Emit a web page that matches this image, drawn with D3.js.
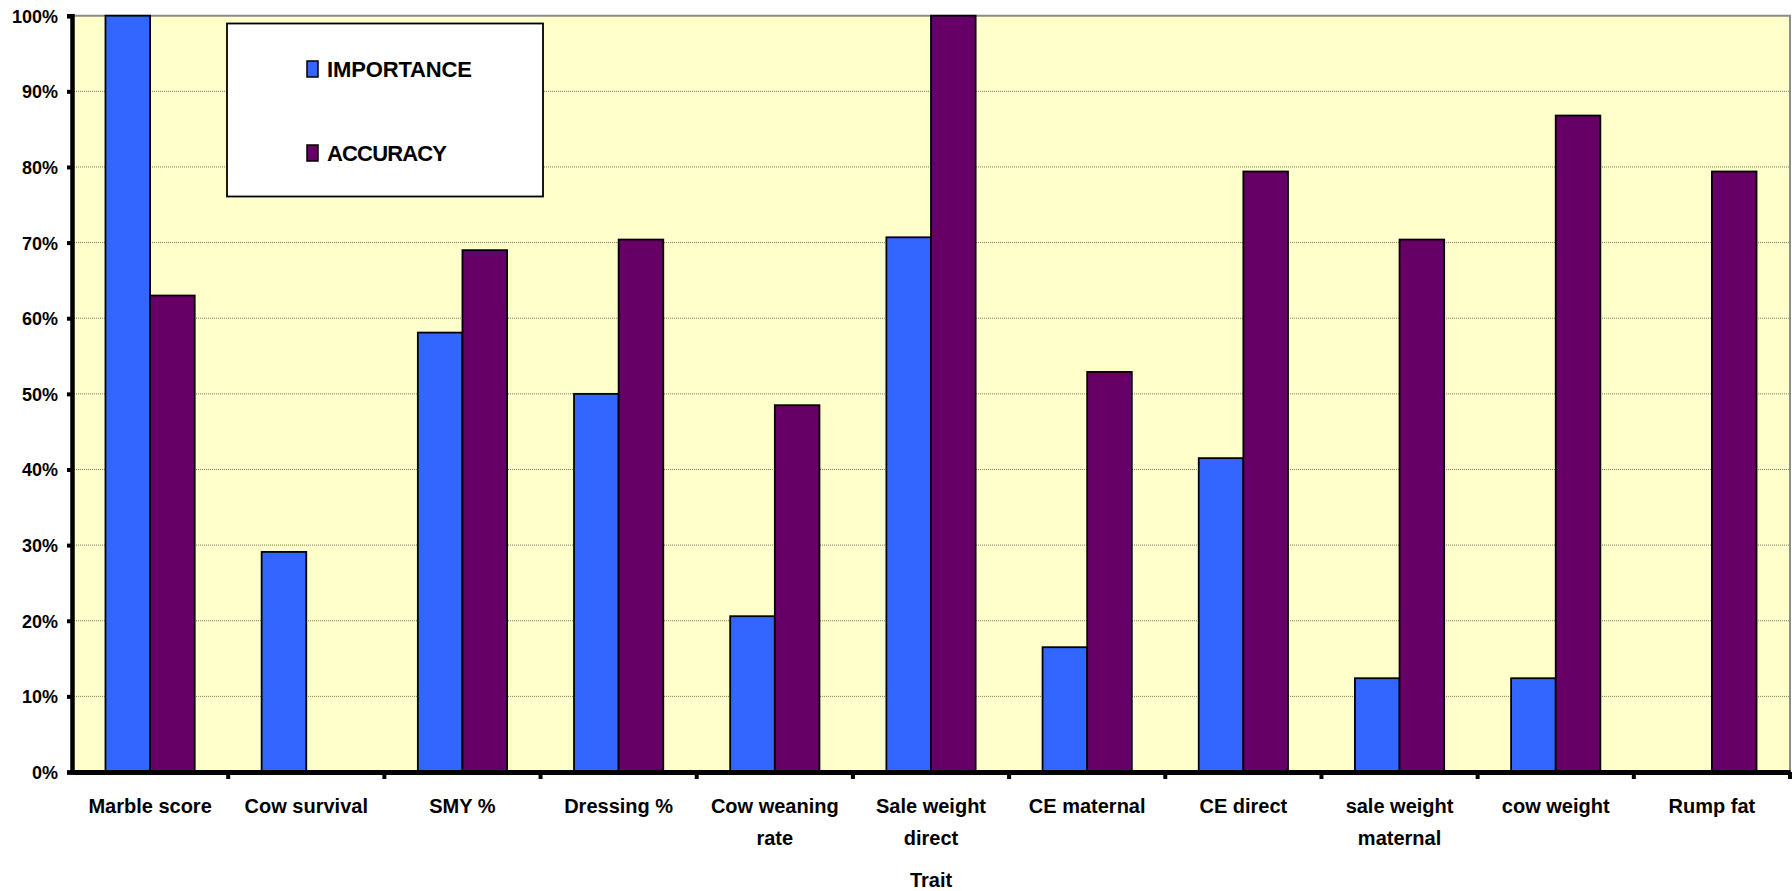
<!DOCTYPE html>
<html>
<head>
<meta charset="utf-8">
<script src="https://cdn.jsdelivr.net/npm/d3@7"></script>
<style>
  body { margin: 0; background: #fff; }
  svg text { font-family: "Liberation Sans", Arial, sans-serif; font-weight: bold; fill: #000; }
</style>
</head>
<body>
<div id="chartArea"></div>
<script>
var traits = ['Marble score', 'Cow survival', 'SMY %', 'Dressing %', 'Cow weaning rate',
              'Sale weight direct', 'CE maternal', 'CE direct', 'sale weight maternal',
              'cow weight', 'Rump fat'];
// label lines as shown under the axis
var traitLines = [['Marble score'], ['Cow survival'], ['SMY %'], ['Dressing %'], ['Cow weaning', 'rate'],
                  ['Sale weight', 'direct'], ['CE maternal'], ['CE direct'], ['sale weight', 'maternal'],
                  ['cow weight'], ['Rump fat']];
var importance = [100, 29.1, 58.1, 50, 20.6, 70.7, 16.5, 41.5, 12.4, 12.4, 0];
var accuracy = [63, 0, 69, 70.4, 48.5, 100, 52.9, 79.4, 70.4, 86.8, 79.4];
var seriesNames = ['IMPORTANCE', 'ACCURACY'];
var seriesColors = ['#3366FF', '#660066'];
var yTicks = [0, 10, 20, 30, 40, 50, 60, 70, 80, 90, 100];

var width = 1792, height = 891;
var plot = { left: 72, right: 1790, top: 15.7, bottom: 772 };

var svg = d3.select('#chartArea').append('svg')
  .attr('width', width).attr('height', height);

var x0 = d3.scaleBand().domain(traits).range([plot.left, plot.right]).paddingInner(0).paddingOuter(0);
var y = d3.scaleLinear().domain([0, 100]).range([plot.bottom, plot.top]);

// plot background
svg.append('rect')
  .attr('x', plot.left).attr('y', plot.top)
  .attr('width', plot.right - plot.left).attr('height', plot.bottom - plot.top)
  .attr('fill', '#FFFFCC');

// gridlines
svg.append('g').selectAll('line')
  .data(yTicks.filter(function(d){ return d > 0 && d < 100; }))
  .enter().append('line')
  .attr('x1', plot.left).attr('x2', plot.right)
  .attr('y1', function(d){ return y(d); }).attr('y2', function(d){ return y(d); })
  .attr('stroke', '#7a7a6a').attr('stroke-width', 1).attr('stroke-dasharray', '1,1');

// top / right border
svg.append('path')
  .attr('d', 'M' + plot.left + ',' + y(100) + 'H' + plot.right + 'V' + plot.bottom)
  .attr('fill', 'none').attr('stroke', '#8c8c8c').attr('stroke-width', 2);

// bars
var bw = x0.bandwidth() / 3.5;
var groups = svg.append('g').selectAll('g')
  .data(traits).enter().append('g');

groups.each(function(t, i) {
  var g = d3.select(this);
  var cx = x0(t) + x0.bandwidth() / 2;
  var vals = [importance[i], accuracy[i]];
  vals.forEach(function(v, j) {
    if (v <= 0) return;
    g.append('rect')
      .attr('x', cx - bw + bw * j)
      .attr('y', y(v))
      .attr('width', bw)
      .attr('height', y(0) - y(v))
      .attr('fill', seriesColors[j])
      .attr('stroke', '#000').attr('stroke-width', 1.8);
  });
});

// y axis
var yAxis = d3.axisLeft(y).tickValues(yTicks).tickSize(5).tickPadding(9)
  .tickFormat(function(d){ return d + '%'; });
var yg = svg.append('g').attr('transform', 'translate(' + plot.left + ',0)').call(yAxis);
yg.select('.domain').attr('stroke', '#000').attr('stroke-width', 4.5);
yg.selectAll('.tick line').attr('stroke', '#000').attr('stroke-width', 4);
yg.selectAll('.tick text').style('font-size', '18px').attr('dy', '0.36em');

// x axis
var xAxis = d3.axisBottom(x0).tickSize(0).tickFormat('');
var xg = svg.append('g').attr('transform', 'translate(0,' + plot.bottom + ')').call(xAxis);
xg.select('.domain').attr('stroke', '#000').attr('stroke-width', 5);

// category separators below axis
svg.append('g').selectAll('line')
  .data(traits.slice(1).concat(['__end']))
  .enter().append('line')
  .attr('x1', function(d){ return d === '__end' ? plot.right : x0(d); })
  .attr('x2', function(d){ return d === '__end' ? plot.right : x0(d); })
  .attr('y1', plot.bottom).attr('y2', plot.bottom + 7)
  .attr('stroke', '#000').attr('stroke-width', 4);

// category labels
var labels = svg.append('g').selectAll('text')
  .data(traits).enter().append('text')
  .attr('text-anchor', 'middle')
  .style('font-size', '20px');
labels.each(function(t, i) {
  var cx = x0(t) + x0.bandwidth() / 2;
  d3.select(this).selectAll('tspan').data(traitLines[i]).enter().append('tspan')
    .attr('x', cx)
    .attr('y', function(d, k){ return 813 + k * 32; })
    .text(function(d){ return d; });
});

// axis title
svg.append('text')
  .attr('x', x0('Sale weight direct') + x0.bandwidth() / 2)
  .attr('y', 887)
  .attr('text-anchor', 'middle')
  .style('font-size', '20px')
  .text('Trait');

// legend
var legend = svg.append('g');
legend.append('rect')
  .attr('x', 227).attr('y', 23.5).attr('width', 316).attr('height', 173)
  .attr('fill', '#fff').attr('stroke', '#000').attr('stroke-width', 1.8);
var legendY = [69, 153];
var legendLen = [145, 120];
seriesNames.forEach(function(name, j) {
  legend.append('rect')
    .attr('x', 307).attr('y', legendY[j] - 8).attr('width', 11).attr('height', 16)
    .attr('fill', seriesColors[j]).attr('stroke', '#000').attr('stroke-width', 1.5);
  legend.append('text')
    .attr('x', 327).attr('y', legendY[j] + 8)
    .style('font-size', '22px')
    .attr('textLength', legendLen[j])
    .text(name);
});
</script>
</body>
</html>
